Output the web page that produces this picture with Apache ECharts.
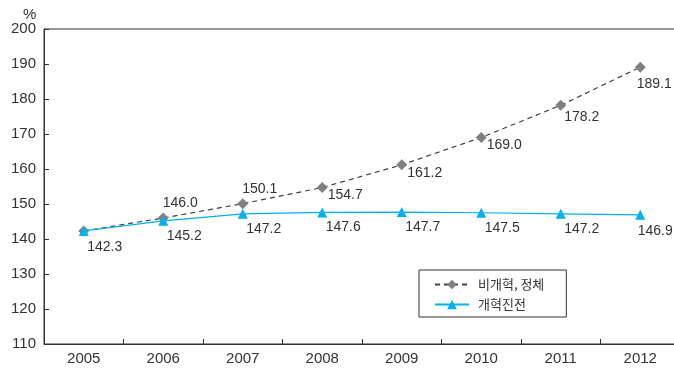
<!DOCTYPE html>
<html>
<head>
<meta charset="utf-8">
<script src="https://cdn.jsdelivr.net/npm/echarts@6/dist/echarts.min.js"></script>
<style>
  html, body { margin: 0; padding: 0; background: #fff; overflow: hidden; width: 674px; height: 373px; }
  #chart { width: 680px; height: 373px; }
</style>
</head>
<body>
<div id="chart"></div>
<script>
// Years on the category axis
const years = ['2005', '2006', '2007', '2008', '2009', '2010', '2011', '2012'];
// Scenario without reform (stagnation)
const stagnation = [142.3, 146.0, 150.1, 154.7, 161.2, 169.0, 178.2, 189.1];
// Scenario with reform progress
const reform = [142.3, 145.2, 147.2, 147.6, 147.7, 147.5, 147.2, 146.9];
const seriesNames = ['비개혁, 정체', '개혁진전'];
const yTicks = [110, 120, 130, 140, 150, 160, 170, 180, 190, 200];

const numFont = '"Liberation Sans", Arial, sans-serif';
const textColor = '#333';

// Label placement (label centre relative to its marker, in px)
function stagnationOffset(i) {
  if (i === 0) return [21, 16];
  if (i === 1 || i === 2) return [17, -15];
  if (i === 6) return [21, 12];
  if (i === years.length - 1) return [14, 17];
  return [23, 8];
}
function reformOffset(i) {
  if (i === years.length - 1) return [15, 16];
  return [21, 15];
}

const stagnationData = stagnation.map((v, i) => ({
  value: v,
  label: { position: 'inside', offset: stagnationOffset(i) }
}));
const reformData = reform.map((v, i) => ({
  value: v,
  // the 2005 value is shared with the other series and labelled once
  label: i === 0 ? { show: false } : { position: 'inside', offset: reformOffset(i) }
}));

const labelStyle = {
  show: true, fontFamily: numFont, fontSize: 14, color: textColor,
  formatter: p => p.value.toFixed(1)
};

const chart = echarts.init(document.getElementById('chart'), null, { renderer: 'canvas' });
chart.setOption({
  animation: false,
  backgroundColor: '#fff',
  grid: {
    left: 44, top: 29, right: 0, height: 315,
    show: true, borderColor: '#333', borderWidth: 1, backgroundColor: 'transparent'
  },
  graphic: [{
    type: 'text', left: 23, top: 7,
    style: { text: '%', font: '15px ' + numFont, fill: textColor }
  }],
  legend: {
    orient: 'vertical',
    left: 419, top: 270,
    padding: [8, 22, 6, 15],
    borderColor: '#333', borderWidth: 1,
    itemWidth: 34, itemHeight: 12, itemGap: 7,
    textStyle: { fontFamily: '"Noto Sans CJK KR", sans-serif', fontSize: 13, color: textColor, padding: [0, 0, 0, 4] },
    data: seriesNames
  },
  xAxis: {
    type: 'category',
    data: years,
    boundaryGap: true,
    axisLine: { lineStyle: { color: '#333', width: 1 } },
    axisTick: { show: true, inside: true, length: 5, alignWithLabel: false, lineStyle: { color: '#333' } },
    axisLabel: { fontFamily: numFont, fontSize: 15, color: textColor, margin: 7 },
    splitLine: { show: false }
  },
  yAxis: {
    type: 'value',
    min: yTicks[0], max: yTicks[yTicks.length - 1], interval: 10,
    axisLine: { show: true, lineStyle: { color: '#333', width: 1 } },
    axisTick: { show: true, inside: true, length: 5, lineStyle: { color: '#333' } },
    axisLabel: { fontFamily: numFont, fontSize: 15, color: textColor, margin: 8 },
    splitLine: { show: false }
  },
  series: [
    {
      name: seriesNames[0],
      type: 'line',
      data: stagnationData,
      symbol: 'diamond', symbolSize: 11,
      itemStyle: { color: '#808080' },
      lineStyle: { color: '#404040', width: 1.2, type: [5, 4] },
      label: labelStyle,
      z: 3
    },
    {
      name: seriesNames[1],
      type: 'line',
      data: reformData,
      symbol: 'triangle', symbolSize: 10,
      itemStyle: { color: '#00b0f0' },
      lineStyle: { color: '#00b0f0', width: 1.2 },
      label: labelStyle,
      z: 4
    }
  ]
});
</script>
</body>
</html>
